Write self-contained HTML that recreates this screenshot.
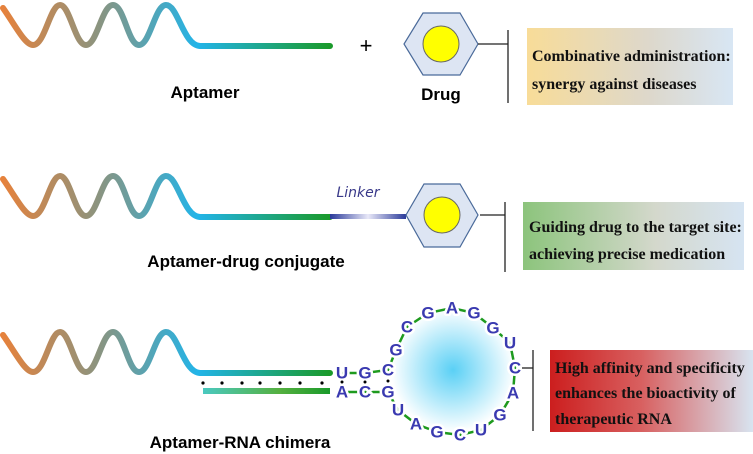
<!DOCTYPE html>
<html><head><meta charset="utf-8"><style>
html,body{margin:0;padding:0;background:#fff;}
svg{display:block;}
.s{font-family:"Liberation Sans","DejaVu Sans",sans-serif;font-weight:bold;font-size:17px;fill:#000;text-anchor:middle;}
.t{font-family:"Liberation Serif",serif;font-weight:bold;font-size:16px;fill:#111;}
.n{font-family:"Liberation Sans",sans-serif;font-weight:bold;font-size:17px;fill:#3a3ab0;text-anchor:middle;dominant-baseline:central;stroke:#fff;stroke-width:5px;paint-order:stroke;stroke-linejoin:round;}
</style></head><body>
<svg width="753" height="454" viewBox="0 0 753 454" xmlns="http://www.w3.org/2000/svg">
<defs>
<linearGradient id="w" x1="0" y1="0" x2="330" y2="0" gradientUnits="userSpaceOnUse">
<stop offset="0" stop-color="#e8813a"/><stop offset="0.3" stop-color="#8a9480"/><stop offset="0.6" stop-color="#22b4e8"/><stop offset="1" stop-color="#1a9a2a"/>
</linearGradient>
<linearGradient id="lb" x1="0" x2="1"><stop offset="0" stop-color="#4ac9c0"/><stop offset="0.6" stop-color="#55b040"/><stop offset="1" stop-color="#1a9a2a"/></linearGradient>
<linearGradient id="lk" x1="0" x2="1"><stop offset="0" stop-color="#2a3a9a"/><stop offset="0.5" stop-color="#e8e8f8"/><stop offset="1" stop-color="#2a3a9a"/></linearGradient>
<linearGradient id="g1" x1="0" x2="1"><stop offset="0" stop-color="#f8dc98"/><stop offset="0.6" stop-color="#ddd8cc"/><stop offset="1" stop-color="#d8e6f4"/></linearGradient>
<linearGradient id="g2" x1="0" x2="1"><stop offset="0" stop-color="#8cc47c"/><stop offset="0.6" stop-color="#d4d8cc"/><stop offset="1" stop-color="#d6e4f2"/></linearGradient>
<linearGradient id="g3" x1="0" x2="1"><stop offset="0" stop-color="#cc1e1e"/><stop offset="0.45" stop-color="#d86060"/><stop offset="1" stop-color="#d8e4f0"/></linearGradient>
<radialGradient id="rc"><stop offset="0" stop-color="#5ad0f5"/><stop offset="1" stop-color="#ffffff"/></radialGradient>
<path id="wave" d="M3,8 C15,25 25,45 33,45 C45,45 50,5 60,5 C70,5 75,45 86,45 C97,45 102,5 113,5 C124,5 128,45 139,45 C150,45 155,5 166,5 C178,5 183,45 200,46 L330,46" fill="none" stroke="url(#w)" stroke-width="6" stroke-linecap="round"/>
</defs>

<!-- Row 1 -->
<use href="#wave"/>
<text class="s" x="205" y="98">Aptamer</text>
<text x="366" y="53" font-family="Liberation Sans" font-size="22" text-anchor="middle">+</text>
<polygon points="423,13 460,13 478,44 460,75 423,75 404,44" fill="#dde5f3" stroke="#4a6a9a" stroke-width="1.2"/>
<circle cx="441" cy="44" r="18" fill="#ffff00" stroke="#666" stroke-width="1"/>
<text class="s" x="441" y="100">Drug</text>
<line x1="478" y1="44" x2="508" y2="44" stroke="#222" stroke-width="1.3"/>
<line x1="508" y1="30" x2="508" y2="103" stroke="#222" stroke-width="1.3"/>
<rect x="527" y="28" width="206" height="77" fill="url(#g1)"/>
<text class="t" x="532" y="61">Combinative administration:</text>
<text class="t" x="532" y="89">synergy against diseases</text>

<!-- Row 2 -->
<g transform="translate(0,171)"><use href="#wave"/></g>
<rect x="330" y="214" width="76" height="5" fill="url(#lk)"/>
<text x="358" y="197" font-family="DejaVu Sans,sans-serif" font-style="italic" font-size="14" fill="#3a3a8a" text-anchor="middle">Linker</text>
<polygon points="424,184 460,184 478,215 460,247 424,247 406,215" fill="#dde5f3" stroke="#4a6a9a" stroke-width="1.2"/>
<circle cx="442" cy="215" r="18" fill="#ffff00" stroke="#666" stroke-width="1"/>
<line x1="480" y1="215" x2="505" y2="215" stroke="#222" stroke-width="1.3"/>
<line x1="505" y1="202" x2="505" y2="272" stroke="#222" stroke-width="1.3"/>
<rect x="523" y="202" width="221" height="68" fill="url(#g2)"/>
<text class="t" x="529" y="232">Guiding drug to the target site:</text>
<text class="t" x="529" y="259">achieving precise medication</text>
<text class="s" x="246" y="267">Aptamer-drug conjugate</text>

<!-- Row 3 -->
<g transform="translate(0,327)"><use href="#wave"/></g>
<rect x="203" y="388" width="127" height="6" fill="url(#lb)"/>
<g fill="#000">
<circle cx="203" cy="383" r="1.6"/><circle cx="222" cy="383" r="1.6"/><circle cx="242" cy="383" r="1.6"/><circle cx="260" cy="383" r="1.6"/><circle cx="280" cy="383" r="1.6"/><circle cx="300" cy="383" r="1.6"/><circle cx="322" cy="383" r="1.6"/>
</g>
<circle cx="453" cy="370" r="62" fill="url(#rc)"/>
<polyline points="342,373 365,373 388,370 396,350 407,327 428,313 452,308 474,313 493,328 510,343 515,368 513,393 500,415 481,430 460,435 437,432 416,424 398,410 388,392 365,392 342,392" fill="none" stroke="#1e9a1e" stroke-width="2.5"/>
<text class="n" x="342" y="373">U</text><text class="n" x="365" y="373">G</text><text class="n" x="388" y="370">C</text>
<text class="n" x="342" y="392">A</text><text class="n" x="365" y="392">C</text><text class="n" x="388" y="392">G</text>
<text class="n" x="396" y="350">G</text><text class="n" x="407" y="327">C</text><text class="n" x="428" y="313">G</text><text class="n" x="452" y="308">A</text><text class="n" x="474" y="313">G</text><text class="n" x="493" y="328">G</text><text class="n" x="510" y="343">U</text><text class="n" x="515" y="368">C</text><text class="n" x="513" y="393">A</text><text class="n" x="500" y="415">G</text><text class="n" x="481" y="430">U</text><text class="n" x="460" y="435">C</text><text class="n" x="437" y="432">G</text><text class="n" x="416" y="424">A</text><text class="n" x="398" y="410">U</text>
<g fill="#000"><circle cx="342" cy="382" r="1.5"/><circle cx="365" cy="382" r="1.5"/><circle cx="388" cy="381" r="1.5"/></g>
<line x1="522" y1="368" x2="533" y2="368" stroke="#222" stroke-width="1.3"/>
<line x1="533" y1="350" x2="533" y2="431" stroke="#222" stroke-width="1.3"/>
<rect x="550" y="350" width="203" height="82" fill="url(#g3)"/>
<text class="t" x="555" y="373">High affinity and specificity</text>
<text class="t" x="555" y="398">enhances the bioactivity of</text>
<text class="t" x="555" y="424">therapeutic RNA</text>
<text class="s" x="240" y="448">Aptamer-RNA chimera</text>
</svg>
</body></html>
